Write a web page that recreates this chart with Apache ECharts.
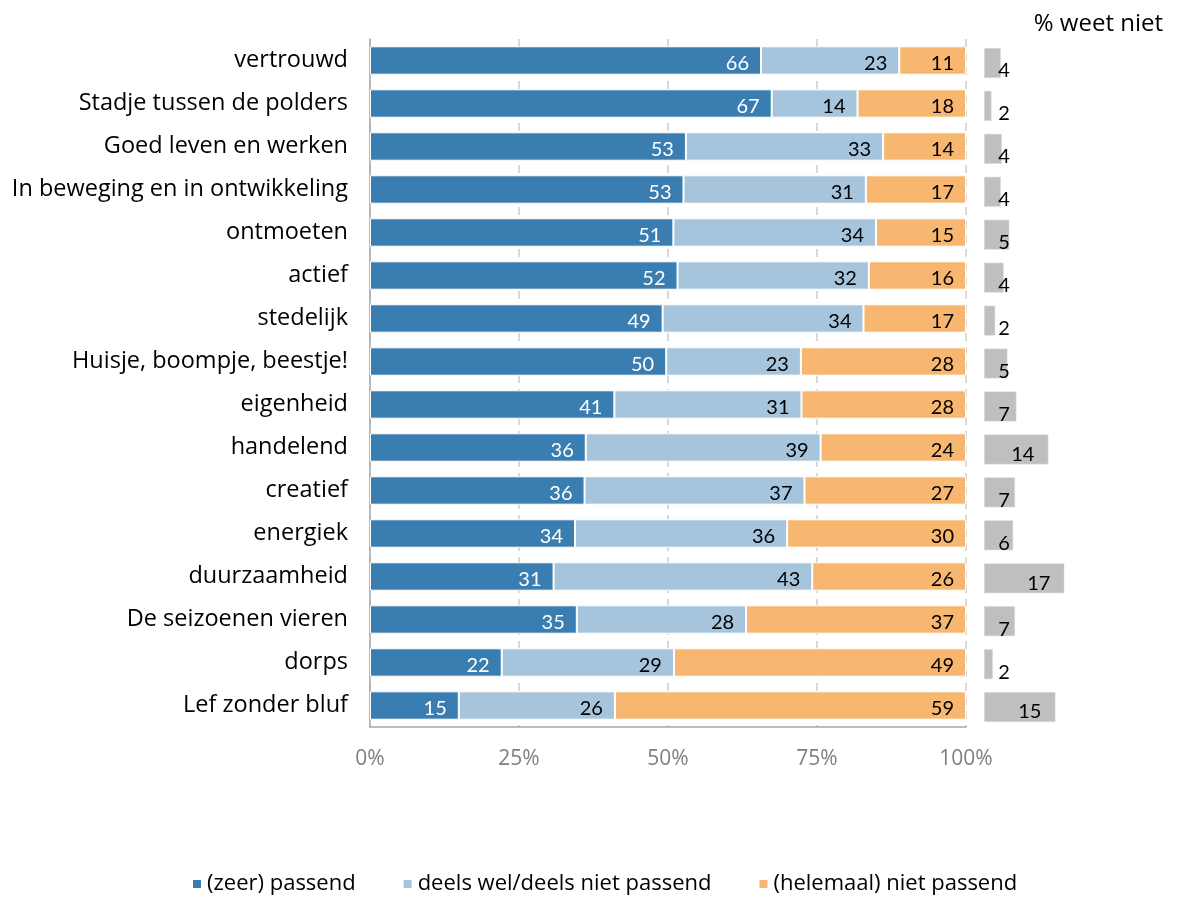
<!DOCTYPE html>
<html>
<head>
<meta charset="utf-8">
<script src="https://cdn.jsdelivr.net/npm/echarts@6/dist/echarts.min.js"></script>
<style>
html,body{margin:0;padding:0;background:#fff;}
#chart{width:1177px;height:900px;}
</style>
</head>
<body>
<div id="chart"></div>
<script>
const categories = ["vertrouwd","Stadje tussen de polders","Goed leven en werken","In beweging en in ontwikkeling","ontmoeten","actief","stedelijk","Huisje, boompje, beestje!","eigenheid","handelend","creatief","energiek","duurzaamheid","De seizoenen vieren","dorps","Lef zonder bluf"];
const zeerPassend   = [65.6,67.4,53.0,52.6,50.9,51.6,49.1,49.7,41.0,36.2,36.0,34.4,30.8,34.7,22.1,14.9];
const deelsPassend  = [23.2,14.4,33.1,30.6,34.0,32.1,33.7,22.6,31.4,39.4,36.9,35.6,43.4,28.4,28.9,26.2];
const nietPassend   = [11.2,18.2,13.9,16.8,15.1,16.3,17.2,27.7,27.6,24.4,27.1,30.0,25.8,36.9,49.0,58.9];
const weetNiet      = [3.6,1.6,3.8,3.6,5.4,4.2,2.4,5.0,6.9,13.7,6.6,6.2,17.1,6.6,1.9,15.2];
const xTicks = ["0%","25%","50%","75%","100%"];
const seriesNames = ["(zeer) passend","deels wel/deels niet passend","(helemaal) niet passend"];

const FONT = "Open Sans";
const NUMFONT = "Lato";
const chart = echarts.init(document.getElementById('chart'));

function mainSeries(name, data, color, labelColor){
  return {
    name: name, type: 'bar', stack: 'tot', xAxisIndex: 0, yAxisIndex: 0,
    data: data, barWidth: '66%',
    itemStyle: {color: color, borderColor: '#ffffff', borderWidth: 1},
    label: {
      show: true, position: 'insideRight', distance: 12, offset: [0, 3],
      color: labelColor, fontFamily: NUMFONT, fontSize: 20,
      formatter: p => Math.round(p.value)
    },
    emphasis: {disabled: true}
  };
}

const wnData = weetNiet.map(v => ({
  value: v,
  label: v >= 10
    ? {position: 'insideRight', distance: 14}
    : {position: [20, 18], align: 'center', verticalAlign: 'middle'}
}));

chart.setOption({
  animation: false,
  textStyle: {fontFamily: FONT},
  grid: [
    {left: 370, width: 596, top: 39, height: 688, containLabel: false},
    {left: 984, width: 188, top: 41.5, height: 687, containLabel: false}
  ],
  title: {
    text: '% weet niet', right: 9, top: 7,
    textStyle: {fontFamily: FONT, fontSize: 24, fontWeight: 'normal', color: '#000'}
  },
  legend: {
    bottom: 0, left: 186, itemWidth: 10, itemHeight: 10, icon: 'rect', itemGap: 46,
    data: seriesNames,
    textStyle: {fontFamily: FONT, fontSize: 22, color: '#000'}
  },
  xAxis: [
    {
      type: 'value', gridIndex: 0, min: 0, max: 100, interval: 25,
      axisLine: {show: true, lineStyle: {color: '#A6A6A6', width: 1.5}},
      axisTick: {show: false},
      splitLine: {show: true, lineStyle: {color: '#D9D9D9', width: 2, type: [8, 6]}},
      axisLabel: {formatter: v => xTicks[v / 25], color: '#7F7F7F', fontSize: 21, margin: 22, fontFamily: FONT}
    },
    {
      type: 'value', gridIndex: 1, min: 0, max: 40, show: false
    }
  ],
  yAxis: [
    {
      type: 'category', gridIndex: 0, data: categories, inverse: true,
      axisLine: {show: true, lineStyle: {color: '#A6A6A6', width: 1.5}},
      axisTick: {show: false},
      axisLabel: {color: '#000', fontSize: 23.5, margin: 22, fontFamily: FONT}
    },
    {
      type: 'category', gridIndex: 1, data: categories, inverse: true, show: false
    }
  ],
  series: [
    mainSeries(seriesNames[0], zeerPassend, '#3A7DB0', '#ffffff'),
    mainSeries(seriesNames[1], deelsPassend, '#A6C5DD', '#000000'),
    mainSeries(seriesNames[2], nietPassend, '#F7B770', '#000000'),
    {
      name: 'weet niet', type: 'bar', xAxisIndex: 1, yAxisIndex: 1,
      data: wnData, barWidth: '70%',
      itemStyle: {color: '#BFBFBF', borderColor: '#e6e6e6', borderWidth: 0.5},
      label: {
        show: true, offset: [0, 5], color: '#000', fontFamily: NUMFONT, fontSize: 20,
        formatter: p => Math.round(p.value)
      },
      emphasis: {disabled: true}
    }
  ]
});
</script>
</body>
</html>
